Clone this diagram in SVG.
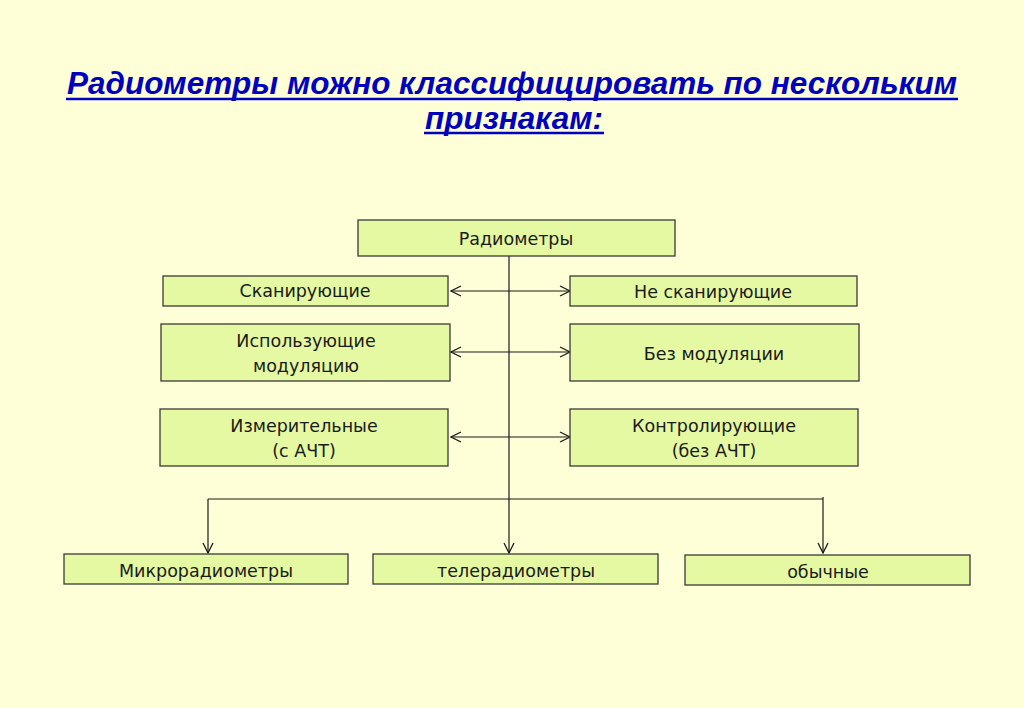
<svg xmlns="http://www.w3.org/2000/svg" width="1024" height="708" viewBox="0 0 1024 708">
<defs>
<style>
.bg{fill:#FFFFD7}
.box{fill:#E5F8A2;stroke:#3a3a3a;stroke-width:1.3}
.t{font-family:"DejaVu Sans","Liberation Sans",sans-serif;font-size:17.5px;fill:#1a1a1a;text-anchor:middle}
.title{font-family:"Liberation Sans",Arial,sans-serif;font-weight:bold;font-style:italic;font-size:32px;fill:#0000C0;text-anchor:middle}
.ln{stroke:#1a1a1a;stroke-width:1.2;fill:none}
.ul{stroke:#0000C0;stroke-width:2.5}
</style>
<marker id="ah" viewBox="0 0 12 12" refX="11" refY="6" markerWidth="12" markerHeight="12" markerUnits="userSpaceOnUse" orient="auto-start-reverse">
<path d="M1,1 L11,6 L1,11" fill="none" stroke="#1a1a1a" stroke-width="1.3"/>
</marker>
</defs>
<rect class="bg" x="0" y="0" width="1024" height="708"/>
<g id="title">
<text class="title" x="512" y="94" textLength="890" lengthAdjust="spacingAndGlyphs">Радиометры можно классифицировать по нескольким</text>
<line class="ul" x1="66" y1="99" x2="958" y2="99"/>
<text class="title" x="514" y="129" textLength="178" lengthAdjust="spacingAndGlyphs">признакам:</text>
<line class="ul" x1="424" y1="133" x2="604" y2="133"/>
</g>
<g id="connectors">
<line class="ln" x1="509" y1="256" x2="509" y2="553" marker-end="url(#ah)"/>
<line class="ln" x1="208" y1="499" x2="823" y2="499"/>
<line class="ln" x1="208" y1="499" x2="208" y2="553" marker-end="url(#ah)"/>
<line class="ln" x1="823" y1="497" x2="823" y2="553" marker-end="url(#ah)"/>
<line class="ln" x1="451" y1="291" x2="570" y2="291" marker-start="url(#ah)" marker-end="url(#ah)"/>
<line class="ln" x1="451" y1="352" x2="570" y2="352" marker-start="url(#ah)" marker-end="url(#ah)"/>
<line class="ln" x1="451" y1="437" x2="570" y2="437" marker-start="url(#ah)" marker-end="url(#ah)"/>
</g>
<g id="n-root"><rect class="box" x="358" y="220" width="317" height="36"/><text class="t" x="516" y="245">Радиометры</text></g>
<g id="n-scan"><rect class="box" x="163" y="276" width="285" height="30"/><text class="t" x="305" y="297">Сканирующие</text></g>
<g id="n-noscan"><rect class="box" x="570" y="276" width="287" height="30"/><text class="t" x="713" y="298">Не сканирующие</text></g>
<g id="n-mod"><rect class="box" x="161" y="324" width="289" height="57"/><text class="t" x="306" y="347">Использующие</text><text class="t" x="306" y="372">модуляцию</text></g>
<g id="n-nomod"><rect class="box" x="570" y="324" width="289" height="57"/><text class="t" x="714" y="360">Без модуляции</text></g>
<g id="n-meas"><rect class="box" x="160" y="409" width="288" height="57"/><text class="t" x="304" y="432">Измерительные</text><text class="t" x="304" y="457">(с АЧТ)</text></g>
<g id="n-ctrl"><rect class="box" x="570" y="409" width="288" height="57"/><text class="t" x="714" y="432">Контролирующие</text><text class="t" x="714" y="457">(без АЧТ)</text></g>
<g id="n-micro"><rect class="box" x="64" y="554" width="284" height="30"/><text class="t" x="206" y="577">Микрорадиометры</text></g>
<g id="n-tele"><rect class="box" x="373" y="554" width="285" height="30"/><text class="t" x="516" y="577">телерадиометры</text></g>
<g id="n-usual"><rect class="box" x="685" y="555" width="285" height="30"/><text class="t" x="828" y="578">обычные</text></g>
</svg>
